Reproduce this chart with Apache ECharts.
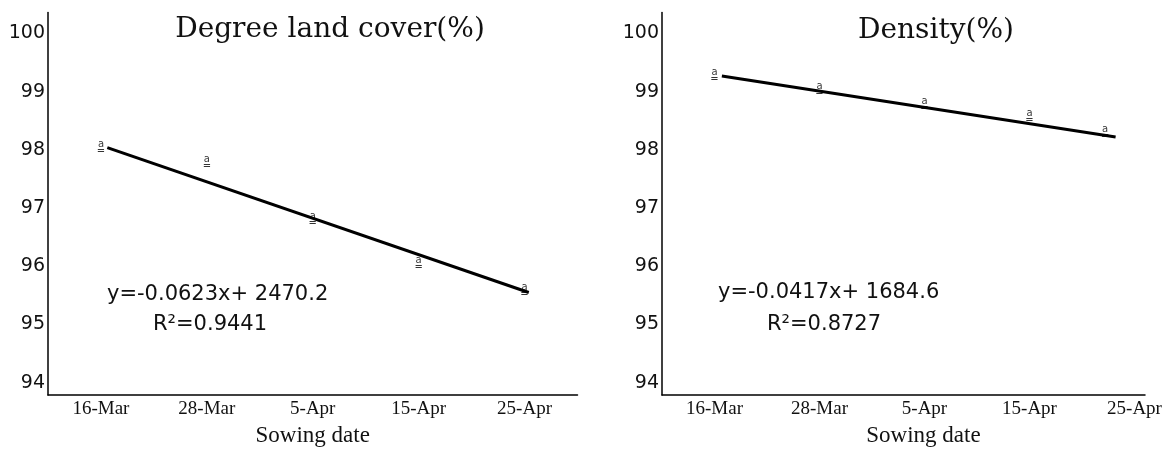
<!DOCTYPE html>
<html lang="en">
<head>
    <meta charset="UTF-8">
    <title>Sowing date</title>
    <script src="https://cdn.jsdelivr.net/npm/echarts@6/dist/echarts.min.js"></script>
    <style>
        html, body { margin: 0; padding: 0; background: #fff; }
        #main { width: 1173px; height: 452px; }
    </style>
</head>
<body>
<div id="main"></div>

<script>
    // category labels and their slots (0..4) on the x axis
    var dateLabels = ['16-Mar', '28-Mar', '5-Apr', '15-Apr', '25-Apr'];
    var yTicks = [94, 95, 96, 97, 98, 99, 100];

    // Degree land cover(%)
    var coverX = [0, 1, 2, 3, 4];
    var coverY = [98.03, 97.78, 96.79, 96.05, 95.57];
    var coverTrend = [[0.06, 98.04], [4.04, 95.55]];

    // Density(%)
    var densityX = [0, 1, 2, 3, 3.72];
    var densityY = [99.27, 99.03, 98.77, 98.57, 98.29];
    var densityTrend = [[0.07, 99.27], [3.82, 98.22]];

    function pairs(xs, ys) {
        return xs.map(function (x, i) { return [x, ys[i]]; });
    }

    var axisLineStyle = { color: '#000', width: 1.5 };

    function xAxis(gridIndex, max, nameShift) {
        return {
            type: 'value', gridIndex: gridIndex, min: -0.5, max: max,
            axisLine: { show: true, onZero: false, lineStyle: axisLineStyle },
            axisTick: { show: false },
            splitLine: { show: false },
            axisLabel: {
                customValues: [0, 1, 2, 3, 4],
                formatter: function (v) { return dateLabels[Math.round(v)]; },
                fontFamily: 'Liberation Serif', fontSize: 19, color: '#111', margin: 5
            },
            name: 'Sowing date', nameLocation: 'middle', nameGap: 29,
            nameTextStyle: {
                fontFamily: 'Liberation Serif', fontSize: 23, color: '#111',
                padding: [0, 0, 0, nameShift]
            }
        };
    }

    function yAxis(gridIndex) {
        return {
            type: 'value', gridIndex: gridIndex, min: 93.79, max: 100.36,
            axisLine: { show: true, onZero: false, lineStyle: axisLineStyle },
            axisTick: { show: false },
            splitLine: { show: false },
            axisLabel: {
                customValues: yTicks,
                fontFamily: 'DejaVu Sans', fontSize: 19, color: '#111', margin: 3
            }
        };
    }

    function markers(idx, data) {
        return {
            type: 'scatter', xAxisIndex: idx, yAxisIndex: idx, data: data,
            symbolSize: 1, itemStyle: { color: 'rgba(0,0,0,0)' }, z: 4,
            label: {
                show: true, position: 'inside',
                formatter: '{t|a}\n{b|=}',
                rich: {
                    t: { fontFamily: 'DejaVu Sans', fontSize: 10, lineHeight: 7, color: '#000', align: 'center' },
                    b: { fontFamily: 'DejaVu Sans', fontSize: 10, lineHeight: 7, color: '#000', align: 'center' }
                }
            }
        };
    }

    function trend(idx, data) {
        return {
            type: 'line', xAxisIndex: idx, yAxisIndex: idx, data: data,
            symbol: 'none', lineStyle: { color: '#000', width: 3 }, z: 3
        };
    }

    function text(str, x, y, font, align) {
        return {
            type: 'text', x: x, y: y,
            style: { text: str, font: font, fill: '#111', textAlign: align || 'left', textVerticalAlign: 'middle' }
        };
    }

    var myChart = echarts.init(document.getElementById('main'));

    var option = {
        animation: false,
        grid: [
            { left: 48, top: 12.5, width: 529.5, height: 383.5 },
            { left: 662, top: 12.5, width: 483, height: 383.5 }
        ],
        xAxis: [xAxis(0, 4.5, 0), xAxis(1, 4.1, 40)],
        yAxis: [yAxis(0), yAxis(1)],
        series: [
            trend(0, coverTrend),
            markers(0, pairs(coverX, coverY)),
            trend(1, densityTrend),
            markers(1, pairs(densityX, densityY))
        ],
        graphic: [
            text('Degree land cover(%)', 330, 30, '28px "DejaVu Serif"', 'center'),
            text('Density(%)', 936, 31, '28px "DejaVu Serif"', 'center'),
            text('y=-0.0623x+ 2470.2', 107, 295, '21px "DejaVu Sans"'),
            text('R\u00b2=0.9441', 153, 325, '21px "DejaVu Sans"'),
            text('y=-0.0417x+ 1684.6', 718, 293, '21px "DejaVu Sans"'),
            text('R\u00b2=0.8727', 767, 325, '21px "DejaVu Sans"')
        ]
    };

    myChart.setOption(option);
</script>
</body>
</html>
